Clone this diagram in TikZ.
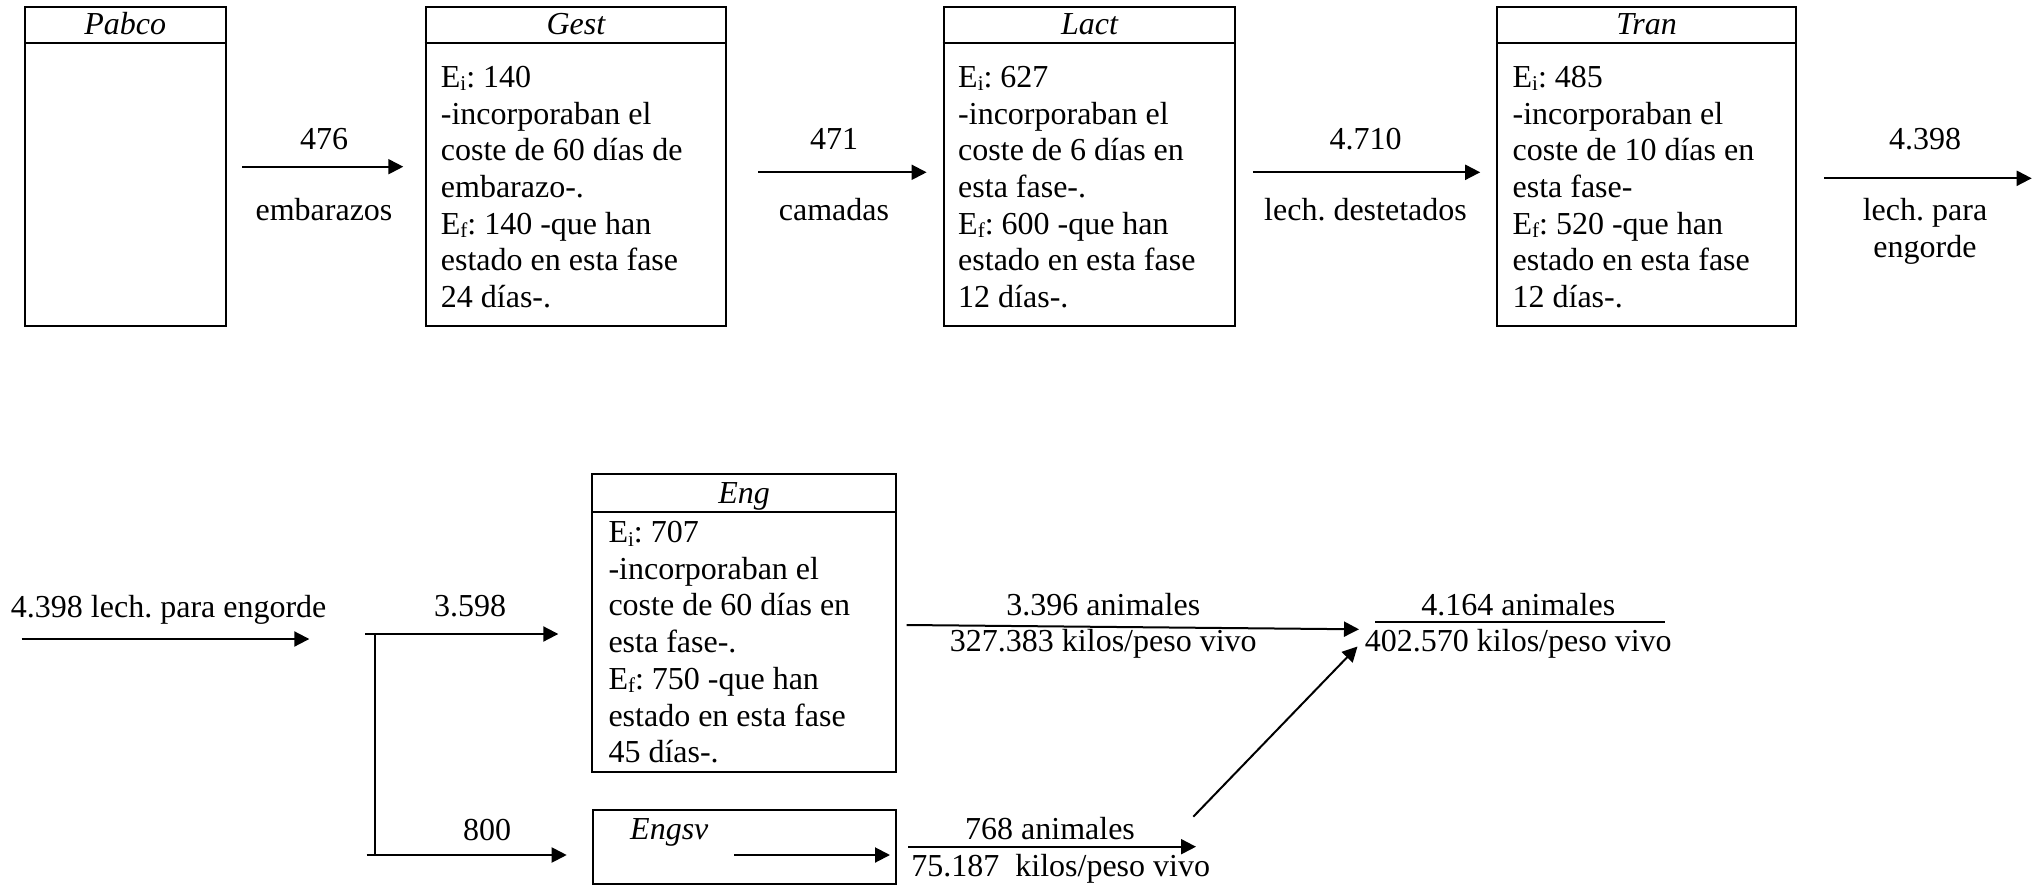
\documentclass[tikz,border=0pt]{standalone}
\usepackage{fontspec}
\setmainfont{Liberation Serif}
\usetikzlibrary{arrows.meta}
\newcommand{\lsub}[1]{\raisebox{-3.5pt}{\fontsize{21}{21}\selectfont #1}}
\begin{document}
\frenchspacing
\begin{tikzpicture}[x=1pt,y=-1pt,
  box/.style={draw, line width=2pt, inner sep=0pt, rectangle},
  hdr/.style={font=\fontsize{32}{36.7}\selectfont\itshape, inner sep=0pt, anchor=base},
  body/.style={font=\fontsize{32}{36.7}\selectfont, inner sep=0pt, anchor=base west},
  lbl/.style={font=\fontsize{32}{36.7}\selectfont, inner sep=0pt, anchor=base},
  flow/.style={-{Triangle[length=15pt,width=15pt]}, line width=2pt},
  plain/.style={line width=2pt}]
\fill[white] (0,0) rectangle (2044,885);
\useasboundingbox (0,0) rectangle (2044,885);

% ---------- Row 1 boxes ----------
\node[box, minimum width=200.5pt, minimum height=319pt] (pabco) at (125.25,166.2) {};
\node[box, minimum width=300.3pt, minimum height=319pt] (gest) at (575.85,166.2) {};
\node[box, minimum width=291.8pt, minimum height=319pt] (lact) at (1089.5,166.2) {};
\node[box, minimum width=298.5pt, minimum height=319pt] (tran) at (1646.55,166.2) {};

\foreach \b in {pabco,gest,lact,tran}{
  \draw[plain] ([yshift=-37.6pt]\b.north west) -- ([yshift=-37.6pt]\b.north east);
}
\node[hdr] (pabcoH) at ([yshift=-29.3pt]pabco.north) {Pabco};
\node[hdr] (gestH) at ([yshift=-29.3pt]gest.north) {Gest};
\node[hdr] (lactH) at ([yshift=-29.3pt]lact.north) {Lact};
\node[hdr] (tranH) at ([yshift=-29.3pt]tran.north) {Tran};

\node[body] (gestT) at (440.7,87.5) {\begin{tabular}[t]{@{}l@{}}
E\lsub{i}: 140\\
-incorporaban el\\
coste de 60 días de\\
embarazo-.\\
E\lsub{f}: 140 -que han\\
estado en esta fase\\
24 días-.\end{tabular}};

\node[body] (lactT) at (958,87.5) {\begin{tabular}[t]{@{}l@{}}
E\lsub{i}: 627\\
-incorporaban el\\
coste de 6 días en\\
esta fase-.\\
E\lsub{f}: 600 -que han\\
estado en esta fase\\
12 días-.\end{tabular}};

\node[body] (tranT) at (1512.4,87.5) {\begin{tabular}[t]{@{}l@{}}
E\lsub{i}: 485\\
-incorporaban el\\
coste de 10 días en\\
esta fase-\\
E\lsub{f}: 520 -que han\\
estado en esta fase\\
12 días-.\end{tabular}};

% ---------- Row 1 arrows ----------
\coordinate (a1s) at (242.4,166.7);  \coordinate (a1e) at (403.3,166.7);
\coordinate (a2s) at (758.4,172.3);  \coordinate (a2e) at (926.6,172.3);
\coordinate (a3s) at (1252.9,172.3); \coordinate (a3e) at (1480.2,172.3);
\coordinate (a4s) at (1824.3,178.3); \coordinate (a4e) at (2031.7,178.3);
\draw[flow] (a1s) -- (a1e);
\draw[flow] (a2s) -- (a2e);
\draw[flow] (a3s) -- (a3e);
\draw[flow] (a4s) -- (a4e);

\node[lbl] (n476) at (324,149.5) {476};
\node[lbl] (nemb) at (324,221) {embarazos};
\node[lbl] (n471) at (834,149.5) {471};
\node[lbl] (ncam) at (834,221) {camadas};
\node[lbl] (n4710) at (1365.5,149.5) {4.710};
\node[lbl] (ndest) at (1365.5,221) {lech. destetados};
\node[lbl] (n4398) at (1925,149.5) {4.398};
\node[lbl] (npara) at (1925,220.7) {\begin{tabular}[t]{@{}c@{}}lech. para\\engorde\end{tabular}};

% ---------- Row 2 ----------
\node[lbl] (in4398) at (168.7,617) {4.398 lech. para engorde};
\coordinate (b0s) at (21.7,639); \coordinate (b0e) at (309.3,639);
\draw[flow] (b0s) -- (b0e);

\coordinate (bt) at (365,634);   \coordinate (bte) at (558.3,634);
\coordinate (vt) at (375,634);   \coordinate (vb) at (375,855);
\coordinate (bb) at (366.7,855); \coordinate (bbe) at (566.7,855);
\draw[flow] (bt) -- (bte);
\draw[plain] (vt) -- (vb);
\draw[flow] (bb) -- (bbe);
\node[lbl] (n3598) at (470,616) {3.598};
\node[lbl] (n800) at (487,840) {800};

\node[box, minimum width=303.7pt, minimum height=297.4pt] (eng) at (744.15,623) {};
\draw[plain] ([yshift=-38.4pt]eng.north west) -- ([yshift=-38.4pt]eng.north east);
\node[hdr] (engH) at ([yshift=-30.2pt]eng.north) {Eng};
\node[body] (engT) at (608.3,542.5) {\begin{tabular}[t]{@{}l@{}}
E\lsub{i}: 707\\
-incorporaban el\\
coste de 60 días en\\
esta fase-.\\
E\lsub{f}: 750 -que han\\
estado en esta fase\\
45 días-.\end{tabular}};

\node[box, minimum width=303.3pt, minimum height=74pt] (engsv) at (744.3,847) {};
\node[hdr, anchor=base west] (engsvH) at (630,839.3) {Engsv};
\coordinate (is) at (734,855); \coordinate (ie) at (890,855);
\draw[flow] (is) -- (ie);

% outputs
\coordinate (o1s) at (906.7,625);   \coordinate (o1e) at (1359,629.3);
\draw[flow] (o1s) -- (o1e);
\node[lbl] (n3396) at (1103.3,615) {3.396 animales};
\node[lbl] (k327) at (1103.3,651.7) {327.383 kilos/peso vivo};

\coordinate (o2s) at (908.3,846.7); \coordinate (o2e) at (1196,846.7);
\draw[flow] (o2s) -- (o2e);
\node[lbl] (n768) at (1050,839.3) {768 animales};
\node[lbl] (k75) at (1060.7,876.7) {75.187\ \ kilos/peso vivo};

\coordinate (ds) at (1193.3,816.7); \coordinate (de) at (1357.5,646.5);
\draw[flow] (ds) -- (de);

\node[lbl] (n4164) at (1518.3,615) {4.164 animales};
\coordinate (us) at (1375,621.7); \coordinate (ue) at (1665,621.7);
\draw[plain] (us) -- (ue);
\node[lbl] (k402) at (1518.3,651.7) {402.570 kilos/peso vivo};
\end{tikzpicture}
\end{document}
